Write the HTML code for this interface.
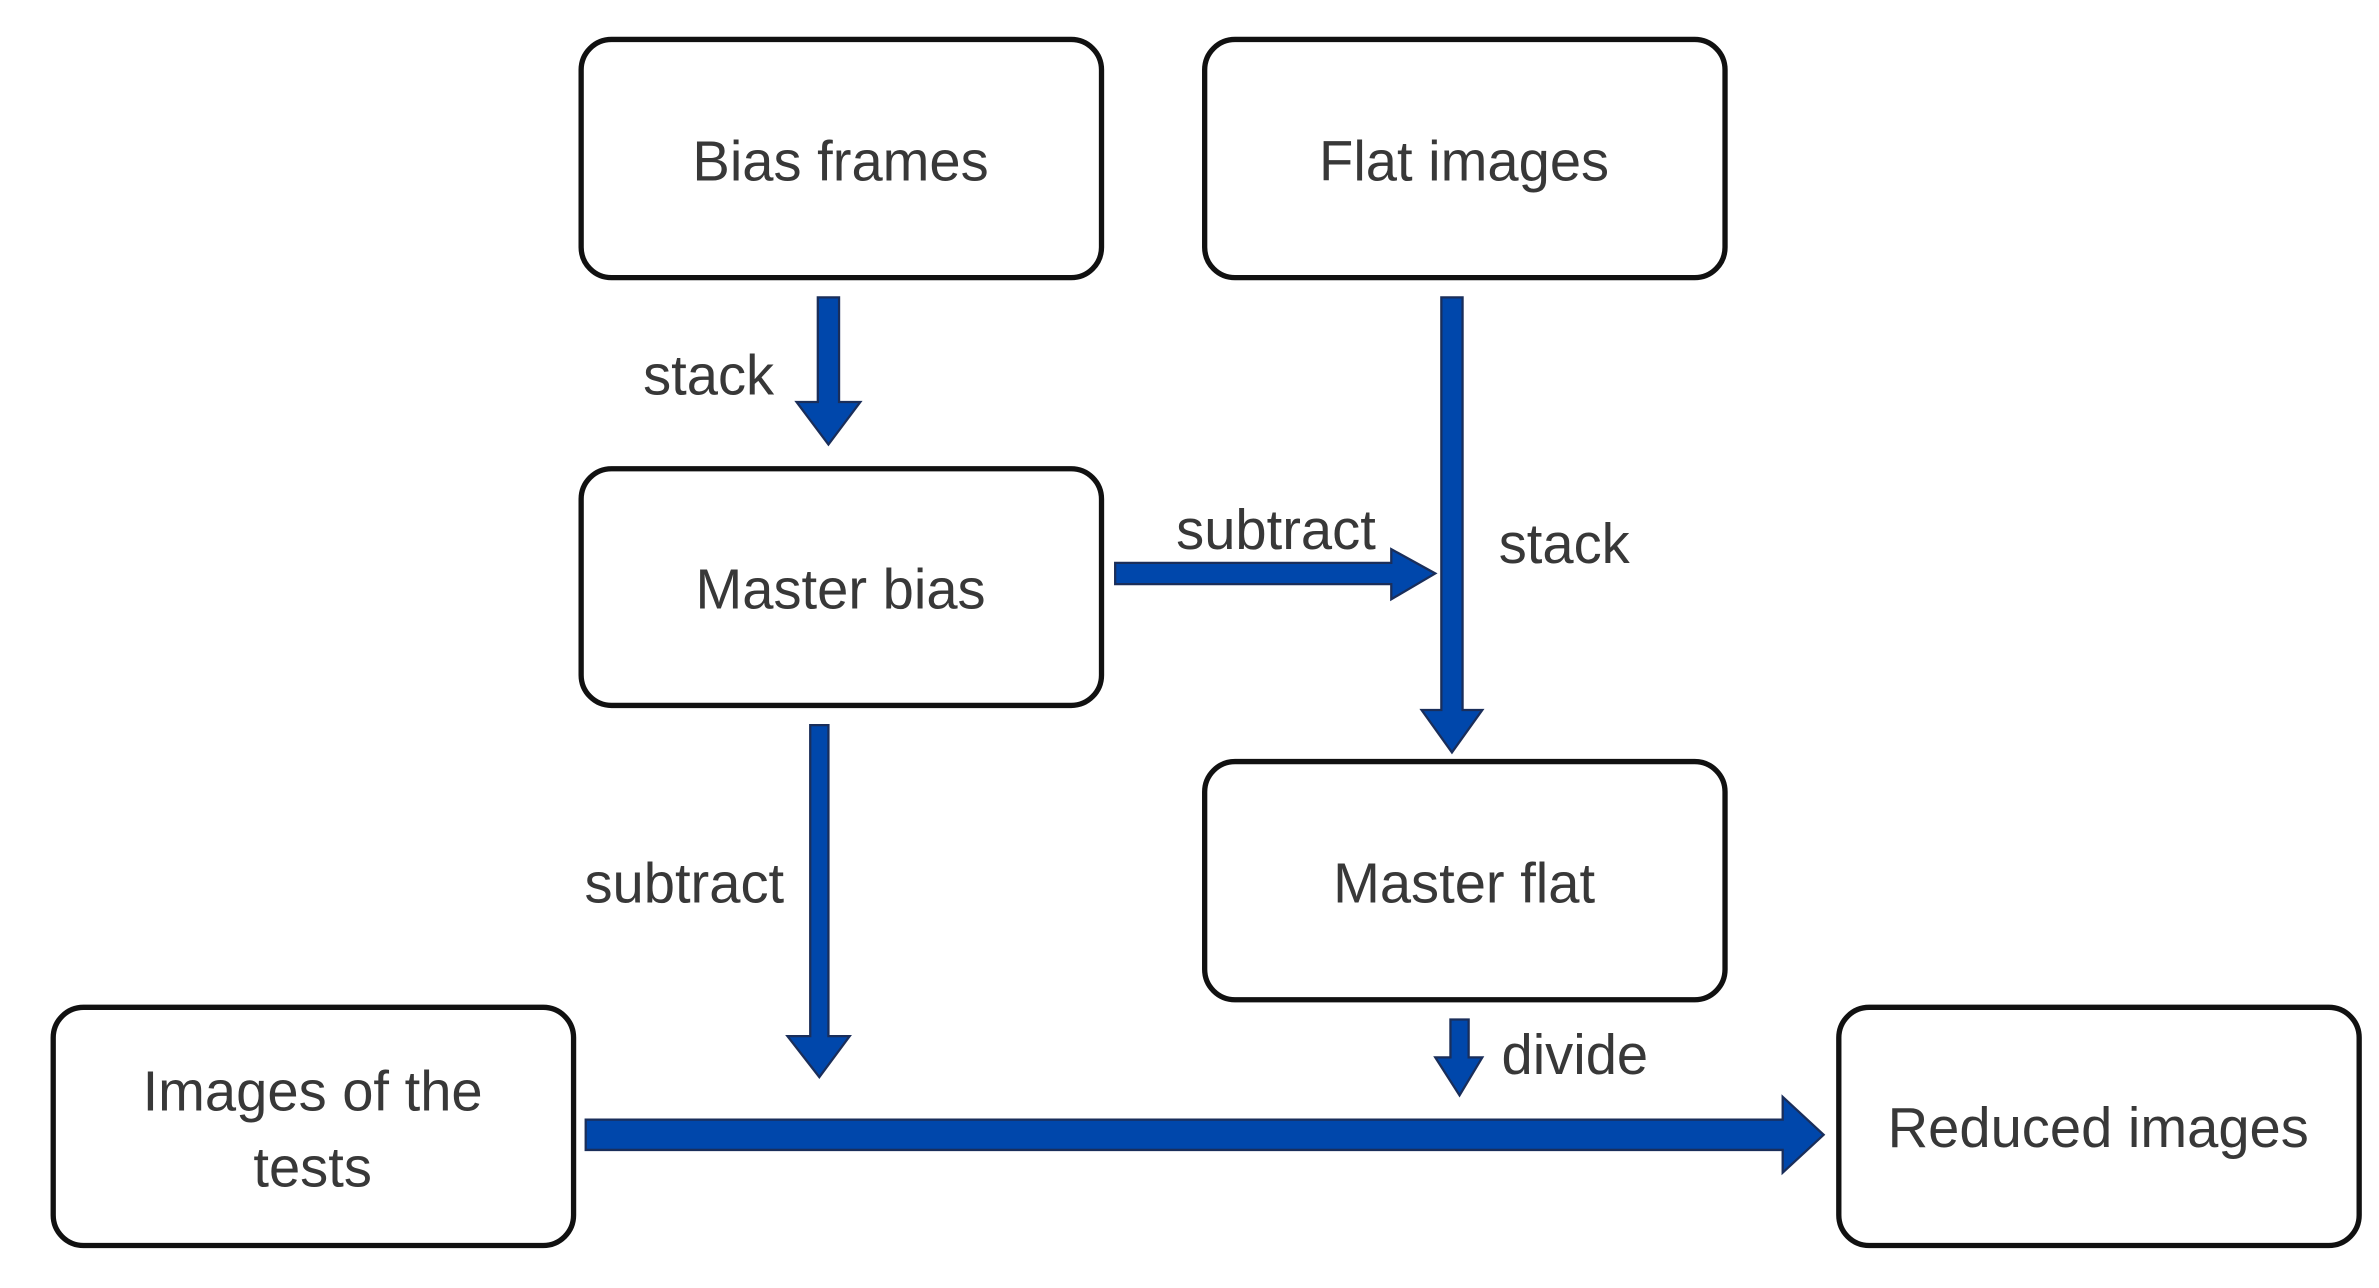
<!DOCTYPE html>
<html><head><meta charset="utf-8"><style>
html,body{margin:0;padding:0;background:#fff;}
svg{display:block;}
text{font-family:"Liberation Sans",sans-serif;font-size:37px;fill:#383838;}
</style></head><body>
<svg width="2379" height="1288" viewBox="0 0 1568 849" xmlns="http://www.w3.org/2000/svg">
<g fill="#fff" stroke="#111" stroke-width="3.5">
<rect x="383" y="26" width="343" height="157" rx="20"/>
<rect x="794" y="26" width="343" height="157" rx="20"/>
<rect x="383" y="309" width="343" height="156" rx="20"/>
<rect x="794" y="502" width="343" height="157" rx="20"/>
<rect x="35" y="664" width="343" height="157" rx="20"/>
<rect x="1212" y="664" width="343" height="157" rx="20"/>
</g>
<g fill="#0047ab" stroke="#1a2e5a" stroke-width="1.5">
<polygon points="539,196 553,196 553,265 567,265 546,293 525,265 539,265"/>
<polygon points="950,196 964,196 964,468 977,468 957,496 937,468 950,468"/>
<polygon points="735,371 917,371 917,362 946,378 917,395 917,385 735,385"/>
<polygon points="534,478 546,478 546,683 560,683 540,710 519,683 534,683"/>
<polygon points="956,672 968,672 968,697 977,697 962,722 946,697 956,697"/>
<polygon points="386,738 1175,738 1175,723 1202,748 1175,773 1175,758 386,758"/>
</g>
<text x="554" y="119" text-anchor="middle">Bias frames</text>
<text x="965" y="119" text-anchor="middle">Flat images</text>
<text x="554" y="401" text-anchor="middle">Master bias</text>
<text x="965" y="595" text-anchor="middle">Master flat</text>
<text x="206" y="732" text-anchor="middle">Images of the</text>
<text x="206" y="782" text-anchor="middle">tests</text>
<text x="1383" y="756" text-anchor="middle">Reduced images</text>
<text x="467" y="260" text-anchor="middle">stack</text>
<text x="1031" y="371" text-anchor="middle">stack</text>
<text x="841" y="362" text-anchor="middle">subtract</text>
<text x="451" y="595" text-anchor="middle">subtract</text>
<text x="1038" y="708" text-anchor="middle">divide</text>
</svg>
</body></html>
